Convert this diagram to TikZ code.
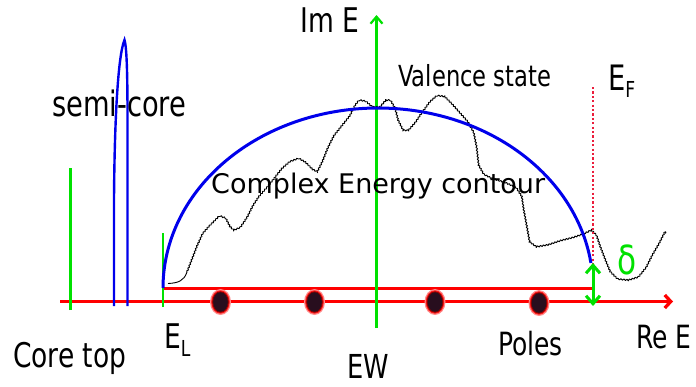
\documentclass[tikz,border=0pt]{standalone}
\usepackage{fontspec}
\setmainfont{DejaVu Sans}
\newfontfamily\narrowfont[FakeStretch=0.78]{DejaVu Sans}
\usetikzlibrary{arrows.meta,decorations.pathmorphing}
\definecolor{lgreen}{RGB}{0,225,0}
\definecolor{cblue}{RGB}{0,0,235}
\definecolor{cred}{RGB}{255,0,0}
\definecolor{dotred}{RGB}{235,30,60}
\definecolor{poledark}{RGB}{40,14,30}
\newcommand\fsz[1]{\fontsize{#1}{#1}\selectfont}
\begin{document}
\begin{tikzpicture}[x=1pt,y=-1pt,
  lbl/.style={inner sep=0pt, anchor=base west},
  gline/.style={lgreen, line width=2.2pt},
  bline/.style={cblue, line width=2.6pt},
  rline/.style={cred, line width=3.3pt},
  valence/.style={black, line width=0.9pt, line join=round, decorate, decoration={snake, amplitude=0.7pt, segment length=3pt}},
  pole/.pic={
    \fill[red!45] (0,0) ellipse [x radius=10.5, y radius=13];
    \fill[red!90] (0,0) ellipse [x radius=9.3, y radius=11.7];
    \fill[red!55!black] (0,0) ellipse [x radius=8.3, y radius=10.7];
    \fill[poledark] (0,0) ellipse [x radius=7.3, y radius=9.7];
  }
]
\useasboundingbox (0,0) rectangle (696,386);

% coordinates
\coordinate (axL) at (60,301.5);
\coordinate (axR) at (673,301.5);
\coordinate (upL) at (163,288);
\coordinate (upR) at (593,288);
\coordinate (imB) at (376.5,328);
\coordinate (imT) at (376.5,15);
\coordinate (ctB) at (70.5,310);
\coordinate (ctT) at (70.5,168);
\coordinate (elB) at (163,307);
\coordinate (elT) at (163,233);
\coordinate (efT) at (593,87);
\coordinate (efB) at (593,286);
\coordinate (dT) at (593,263);
\coordinate (dB) at (593,306);

% axes
\draw[rline, -{Straight Barb[length=6pt,width=13pt]}] (axL) -- (axR);
\draw[cred, line width=3pt] (upL) -- (upR);
\draw[gline, -{Straight Barb[length=7pt,width=12pt]}] (imB) -- (imT);
\draw[gline] (ctB) -- (ctT);
\draw[gline] (elB) -- (elT);

% semi-core peak
\draw[bline, line width=2.4pt] (114,306) -- (114,200) .. controls (114.5,120) and (118,55) .. (124.5,40)
   .. controls (127,48) and (127.5,80) .. (127.5,120) -- (127.5,306);

% valence state curve
\draw[black, line width=0.9pt] (168,283.5) .. controls (178,283) and (184,281) .. (187,272);
\draw[valence] plot coordinates {(187,272) (192,259) (197,246) (202,235) (208,228) (214,222) (219,217) (224,219) (228,227) (233,232) (240,229) (246,220) (252,208) (258,199) (266,190) (274,180) (281,171) (289,164) (297,161) (304,165) (311,172) (317,175) (322,165) (328,150) (334,138) (342,128) (350,118) (355,108) (359,103) (365,104) (372,110) (379,110) (385,103) (390,103) (394,110) (397,122) (402,132) (409,132) (416,124) (422,115) (430,104) (437,98) (445,99) (452,106) (460,115) (468,124) (474,135) (477,150) (479,168) (484,177) (492,181) (505,185) (516,190) (521,198) (523,212) (526,228) (529,245) (536,250) (548,248) (560,244) (572,241) (584,237) (592,233) (597,238) (601,250) (606,263) (611,275) (618,282) (628,283) (638,280) (646,270) (652,258) (659,246) (666,232)};

% complex energy contour
\draw[bline, line width=3pt] plot[smooth, domain=180:8, samples=90] ({378+215*cos(\x)},{288-180*sin(\x)});

% Fermi level and delta
\draw[dotred, line width=2.2pt, dash pattern=on 2.2pt off 2.2pt] (efT) -- (efB);
\draw[lgreen, line width=3pt, {Straight Barb[length=8pt,width=14pt]}-{Straight Barb[length=8pt,width=14pt]}] (dT) -- (dB);

% poles
\pic at (220.5,302) {pole};
\pic at (314.5,302) {pole};
\pic at (435,302) {pole};
\pic at (539,303) {pole};

% labels
\node[lbl, font=\narrowfont\fsz{34}] (imE) at (300,32) {Im E};
\node[lbl, font=\narrowfont\fsz{35}] (semi) at (52,116) {semi-core};
\node[lbl, font=\narrowfont\fsz{29}] (val) at (398,86) {Valence state};
\node[lbl, font=\narrowfont\fsz{35}] (EF) at (608,90.5) {E\raisebox{-7pt}{\fsz{22}F}};
\node[lbl, font=\fsz{27}] (cec) at (211,193) {Complex Energy contour};
\node[lbl, font=\narrowfont\fsz{40}, text=lgreen] (delta) at (617,274) {δ};
\node[lbl, font=\narrowfont\fsz{34}] (core) at (13,367) {Core top};
\node[lbl, font=\narrowfont\fsz{34}] (EL) at (164,348) {E\raisebox{-8pt}{\fsz{22}L}};
\node[lbl, font=\narrowfont\fsz{33}] (EW) at (347,378) {EW};
\node[lbl, font=\narrowfont\fsz{32}] (poles) at (498,355) {Poles};
\node[lbl, font=\narrowfont\fsz{32}] (reE) at (636,348) {Re E};
\end{tikzpicture}
\end{document}
